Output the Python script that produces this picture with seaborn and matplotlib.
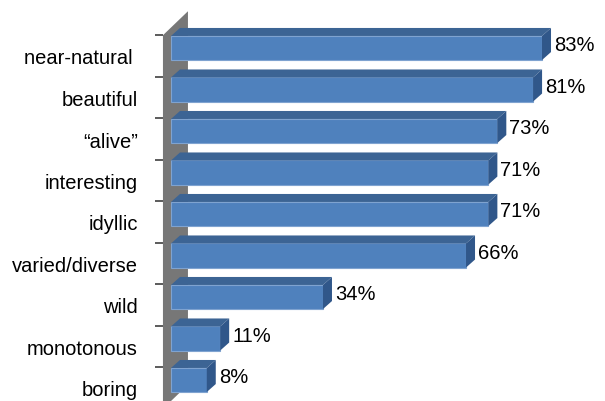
import matplotlib
matplotlib.use("Agg")
import matplotlib.pyplot as plt
from matplotlib.patches import Polygon
import seaborn as sns
import pandas as pd

categories = ["near-natural ", "beautiful", "\u201calive\u201d", "interesting", "idyllic",
              "varied/diverse", "wild", "monotonous", "boring"]
values = [83, 81, 73, 71, 71, 66, 34, 11, 8]
value_labels = ["83%", "81%", "73%", "71%", "71%", "66%", "34%", "11%", "8%"]

sns.set_theme(style="white")
plt.rcParams["font.family"] = ["Liberation Sans", "DejaVu Sans"]

FRONT = "#4F81BD"
EDGE = "#7FA3D0"
TOP = "#3C6494"
SIDE = "#30578A"
WALL = "#777777"

W, H = 605, 402
fig = plt.figure(figsize=(W / 100, H / 100), dpi=100)

px_per_x = 4.47      # pixels per percent
px_per_cat = 41.5    # pixels per category
x_left = -1.8
x_right = 95
ax_left_px = 171 + x_left * px_per_x
ax_top_px = 49 - 0.5 * px_per_cat
ax_bot_px = ax_top_px + 9 * px_per_cat
ax = fig.add_axes([ax_left_px / W, 1 - ax_bot_px / H,
                   (x_right - x_left) * px_per_x / W, 9 * px_per_cat / H])
ax.patch.set_alpha(0)

df = pd.DataFrame({"cat": categories, "val": values})
sns.barplot(data=df, x="val", y="cat", orient="h", color=FRONT, saturation=1,
            width=0.58, ax=ax, linewidth=0.8, edgecolor=EDGE, zorder=3)
bars = list(ax.patches)

ax.set_xlim(x_left, x_right)
ax.set_ylim(8.5, -0.5)

# 3D depth offsets (data units)
ddx = 9 / px_per_x
ddy = 8 / px_per_cat

# side wall at left
wdx = 25 / px_per_x
wdy = 24 / px_per_cat
y_wall_top = -0.5 + 8 / px_per_cat
y_wall_bot = 8.5 + 8 / px_per_cat
wall = Polygon([(x_left, y_wall_top), (x_left + wdx, y_wall_top - wdy),
                (x_left + wdx, y_wall_bot - wdy), (x_left, y_wall_bot)],
               closed=True, facecolor=WALL, edgecolor="none", zorder=1.5, clip_on=False)
ax.add_patch(wall)

for p in bars:
    x0, y0 = p.get_x(), p.get_y()
    w, h = p.get_width(), p.get_height()
    x1 = x0 + w
    ytop, ybot = y0, y0 + h
    top = Polygon([(x0, ytop), (x1, ytop), (x1 + ddx, ytop - ddy), (x0 + ddx, ytop - ddy)],
                  closed=True, facecolor=TOP, edgecolor="none", zorder=3, clip_on=False)
    side = Polygon([(x1, ytop), (x1 + ddx, ytop - ddy), (x1 + ddx, ybot - ddy), (x1, ybot)],
                   closed=True, facecolor=SIDE, edgecolor="none", zorder=3, clip_on=False)
    ax.add_patch(top)
    ax.add_patch(side)

for i, (v, lab) in enumerate(zip(values, value_labels)):
    ax.text(v + ddx + 3 / px_per_x, i - 0.08, lab, ha="left", va="center",
            fontsize=14.5, color="#000000")

# ticks on the front edge of the wall, labels shifted to match perspective
off = 8 / px_per_cat
ax.set_yticks([i + off for i in range(len(categories))])
ax.set_yticklabels(categories, fontsize=14.5, color="#000000")
ax.set_yticks([i - 0.5 + off for i in range(len(categories))], minor=True)
ax.tick_params(axis="y", which="major", length=0, pad=18)
ax.tick_params(axis="y", which="minor", length=6, width=1.2, color="#404040", left=True)
ax.set_xticks([])
ax.set_xlabel("")
ax.set_ylabel("")
for s in ax.spines.values():
    s.set_visible(False)

fig.savefig("out.png", dpi=100)
